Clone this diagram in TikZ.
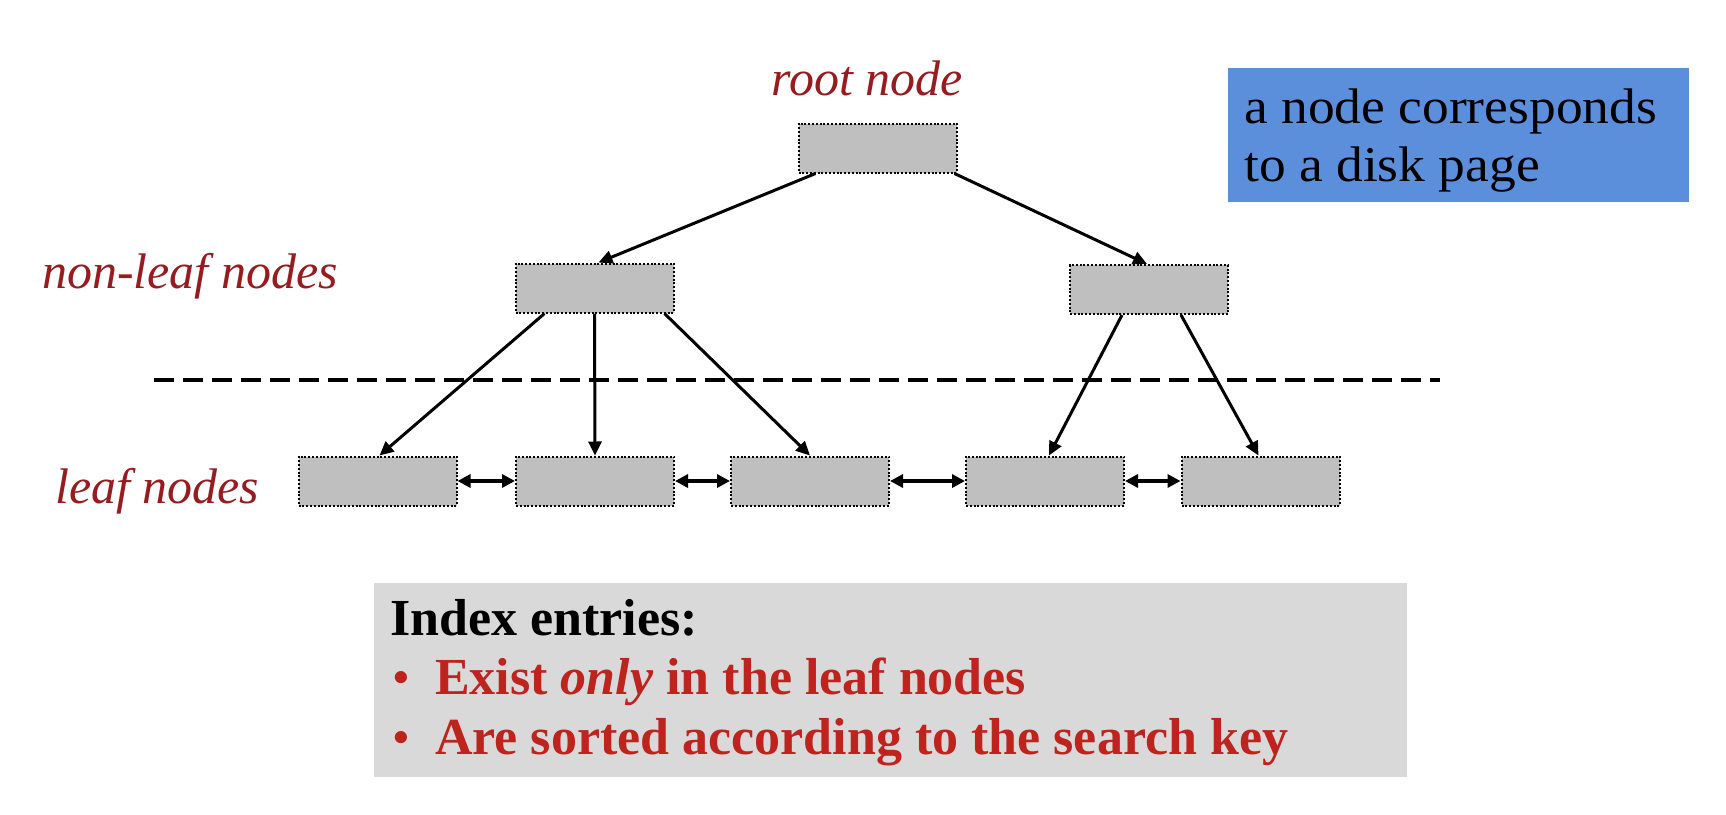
\documentclass[tikz,border=0pt]{standalone}
\usepackage{fontspec}
\setmainfont{Liberation Serif}
\newfontfamily\notefont[FakeStretch=1.07]{Liberation Serif}
\usetikzlibrary{arrows.meta,calc}
\definecolor{labelred}{RGB}{150,28,32}
\definecolor{textred}{RGB}{190,35,30}
\definecolor{noteblue}{RGB}{91,143,220}
\definecolor{panelgray}{RGB}{217,217,217}
\definecolor{pagegray}{RGB}{191,191,191}
\begin{document}
\begin{tikzpicture}[x=1pt,y=-1pt,
  pagebox/.style={draw=black, fill=pagegray, line width=2pt, dash pattern=on 2pt off 1.8pt,
    minimum width=158pt, minimum height=49pt, inner sep=0pt},
  levellabel/.style={text=labelred, font=\fontsize{50}{58}\selectfont\itshape, inner sep=0pt},
  link/.style={line width=3pt, -{Triangle[length=14pt,width=13pt]}},
  sibling/.style={line width=3.4pt, {Triangle[length=13pt,width=13pt]}-{Triangle[length=13pt,width=13pt]}},
  divider/.style={line width=4.2pt, dash pattern=on 20pt off 9pt},
]
\useasboundingbox (0,0) rectangle (1726,814);

% level labels
\node[levellabel, anchor=base] (rootlbl) at (867,95) {root node};
\node[levellabel, anchor=base west] (nonleaflbl) at (42,288) {non-leaf nodes};
\node[levellabel, anchor=base west] (leaflbl) at (55,503) {leaf nodes};

% tree nodes
\node[pagebox] (root) at (877.5,148) {};
\node[pagebox] (nl1) at (594.5,288) {};
\node[pagebox] (nl2) at (1149,289.5) {};
\node[pagebox] (l1) at (377.5,481) {};
\node[pagebox] (l2) at (595,481) {};
\node[pagebox] (l3) at (810,481) {};
\node[pagebox] (l4) at (1045,481) {};
\node[pagebox] (l5) at (1260.5,481) {};

% divider
\coordinate (divl) at (154,380);
\coordinate (divr) at (1440,380);
\draw[divider] (divl) -- (divr);

% tree links
\draw[link] ([xshift=-62pt]root.south) -- ([xshift=4pt]nl1.north);
\draw[link] ([xshift=77pt]root.south) -- ([xshift=-2pt]nl2.north);
\draw[link] ([xshift=-50pt]nl1.south) -- ([xshift=2pt]l1.north);
\draw[link] (nl1.south) -- (l2.north);
\draw[link] ([xshift=70pt]nl1.south) -- (l3.north);
\draw[link] ([xshift=-27pt]nl2.south) -- ([xshift=4pt]l4.north);
\draw[link] ([xshift=32pt]nl2.south) -- ([xshift=-2pt]l5.north);

% sibling links
\draw[sibling] (l1.east) -- (l2.west);
\draw[sibling] (l2.east) -- (l3.west);
\draw[sibling] (l3.east) -- (l4.west);
\draw[sibling] (l4.east) -- (l5.west);

% note box
\node[fill=noteblue, anchor=north west, inner xsep=16pt, inner ysep=0pt,
      text height=55pt, text depth=79pt, font=\notefont\fontsize{50}{58}\selectfont] (note) at (1228,68)
  {\makebox[429pt][l]{\begin{tabular}[t]{@{}l@{}}a node corresponds\\to a disk page\end{tabular}}};

% index entries panel
\node[fill=panelgray, anchor=north west, inner xsep=16pt, inner ysep=0pt,
      text height=52pt, text depth=142pt, font=\fontsize{52}{59.5}\selectfont\bfseries] (panel) at (374,583)
  {\makebox[1001pt][l]{\begin{tabular}[t]{@{}l@{}}Index entries:\\
   \color{textred}\hspace*{3pt}\makebox[42pt][l]{\fontsize{45}{47}\selectfont\raisebox{2pt}{•}}Exist \textit{only} in the leaf nodes\\
   \color{textred}\hspace*{3pt}\makebox[42pt][l]{\fontsize{45}{47}\selectfont\raisebox{2pt}{•}}Are sorted according to the search key\end{tabular}}};
\end{tikzpicture}
\end{document}
